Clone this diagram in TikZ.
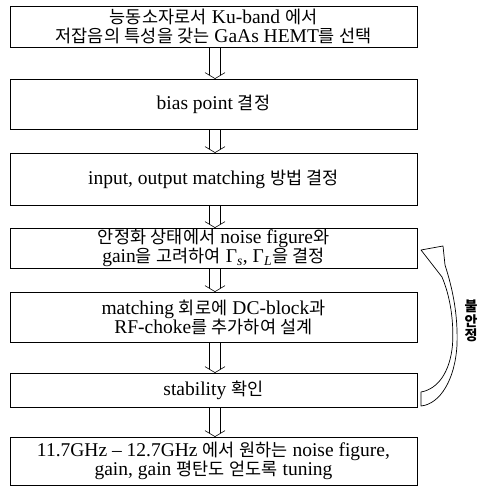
\documentclass[tikz,border=0pt]{standalone}
\usepackage{fontspec}
\setmainfont{Liberation Serif}
\newfontfamily\kr[LetterSpace=1]{Noto Sans CJK KR}
\newcommand\hg[1]{{\kr\fontsize{17.5}{19}\selectfont #1}}
\usetikzlibrary{calc}
\tikzset{
  stepbox/.style={draw, line width=0.8pt, minimum width=407pt, align=center, inner sep=0pt,
    font=\fontsize{19.5}{19}\selectfont},
  hollow/.style={line width=0.6pt, to path={
    ($(\tikztostart)+(-5.5pt,0)$) -- ($(\tikztotarget)+(-5.5pt,3.5pt)$)
    ($(\tikztostart)+(5.5pt,0)$) -- ($(\tikztotarget)+(5.5pt,3.5pt)$)
    ($(\tikztotarget)+(-10pt,6pt)$) -- (\tikztotarget) -- ($(\tikztotarget)+(10pt,6pt)$)}},
  bigarrow/.style={draw, line width=0.7pt, fill=white, line join=round}
}
\begin{document}
\begin{tikzpicture}[x=1pt, y=-1pt]
\useasboundingbox (0,0) rectangle (480,495);
\node[stepbox, minimum height=41pt] (b1) at (213.5,26.5) {\hg{능동소자로서} Ku-band \hg{에서}\\ \hg{저잡음의 특성을 갖는} GaAs HEMT\hg{를 선택}};
\node[stepbox, minimum height=50pt] (b2) at (213.5,104) {bias point \hg{결정}};
\node[stepbox, minimum height=52pt] (b3) at (213.5,179) {input, output matching \hg{방법 결정}};
\node[stepbox, minimum height=40pt] (b4) at (213.5,248) {\hg{안정화 상태에서} noise figure\hg{와}\\ gain\hg{을 고려하여} Γ\textsubscript{\textit{s}}, Γ\textsubscript{\textit{L}}\hg{을 결정}};
\node[stepbox, minimum height=50pt] (b5) at (213.5,317) {matching \hg{회로에} DC-block\hg{과}\\ RF-choke\hg{를 추가하여 설계}};
\node[stepbox, minimum height=34pt] (b6) at (213.5,390) {stability \hg{확인}};
\node[stepbox, minimum height=48pt] (b7) at (213.5,461) {11.7GHz – 12.7GHz \hg{에서 원하는} noise figure,\\ gain, gain \hg{평탄도 얻도록} tuning};

\draw[hollow] ([xshift=1.5pt]b1.south) to ([xshift=1.5pt]b2.north);
\draw[hollow] ([xshift=1.5pt]b2.south) to ([xshift=1.5pt]b3.north);
\draw[hollow] ([xshift=1.5pt]b3.south) to ([xshift=1.5pt]b4.north);
\draw[hollow] ([xshift=1.5pt]b4.south) to ([xshift=1.5pt]b5.north);
\draw[hollow] ([xshift=1.5pt]b5.south) to ([xshift=1.5pt]b6.north);
\draw[hollow] ([xshift=1.5pt]b6.south) to ([xshift=1.5pt]b7.north);

\path[bigarrow] (421,392) .. controls (438,389) and (450,372) .. (452.5,345)
  .. controls (454,320) and (450,296) .. (442,277) -- (421,250) -- (443,246) -- (445,265)
  .. controls (453,290) and (458,315) .. (457,345)
  .. controls (455,380) and (440,404) .. (421,406) -- cycle;

\node[font={\kr\bfseries\fontsize{14}{14.5}\selectfont}, align=center, inner sep=0pt] (lbl) at (471,321) {불\\안\\정};
\end{tikzpicture}
\end{document}
